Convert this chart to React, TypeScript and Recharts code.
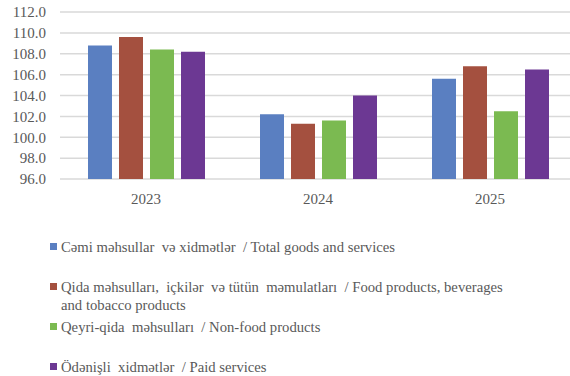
import React from 'react';
import { BarChart, Bar, XAxis, YAxis, CartesianGrid, Legend } from 'recharts';

const years = ['2023', '2024', '2025'];
const total = [108.8, 102.2, 105.6];
const food = [109.6, 101.3, 106.8];
const nonFood = [108.4, 101.6, 102.5];
const paid = [108.2, 104.0, 106.5];
const yTicks = [96, 98, 100, 102, 104, 106, 108, 110, 112];

const seriesNames = [
  'Cəmi məhsullar  və xidmətlər  / Total goods and services',
  'Qida məhsulları,  içkilər  və tütün  məmulatları  / Food products, beverages and tobacco products',
  'Qeyri-qida  məhsulları  / Non-food products',
  'Ödənişli  xidmətlər  / Paid services',
];
const colors = ['#5A7FC1', '#A4503F', '#7BBA51', '#6C3893'];

const data = years.map((y, i) => ({
  year: y,
  total: total[i],
  food: food[i],
  nonFood: nonFood[i],
  paid: paid[i],
}));

const FONT = '"Liberation Serif"';
const TEXT = '#595959';

const renderLegend = () => (
  <div style={{ fontFamily: FONT, fontSize: 14.7, color: TEXT, width: 470 }}>
    {seriesNames.map((name, i) => (
      <div key={i} style={{ position: 'relative', height: 40, paddingLeft: 11 }}>
        <span
          style={{
            position: 'absolute',
            left: 0,
            top: 5,
            width: 7,
            height: 7,
            background: colors[i],
          }}
        />
        <div style={{ lineHeight: '18px', whiteSpace: 'pre-wrap', width: 452 }}>{name}</div>
      </div>
    ))}
  </div>
);

export default function App() {
  return (
    <div style={{ position: 'absolute', left: 0, top: 0, width: 570, height: 376, overflow: 'hidden', background: '#fff', fontFamily: FONT }}>
      <BarChart
        width={580}
        height={376}
        data={data}
        margin={{ top: 12, right: 4, left: 0, bottom: 167 }}
        barCategoryGap={27}
        barGap={7}
        barSize={24}
        style={{ fontFamily: FONT }}
      >
        <CartesianGrid horizontal vertical={false} stroke="#D9D9D9" strokeWidth={1.5} />
        <XAxis
          dataKey="year"
          axisLine={false}
          tickLine={false}
          tickMargin={8}
          height={30}
          tick={{ fill: TEXT, fontSize: 15, fontFamily: FONT }}
        />
        <YAxis
          domain={[96, 112]}
          ticks={yTicks}
          interval={0}
          allowDataOverflow
          axisLine={false}
          tickLine={false}
          tickMargin={8}
          width={60}
          tickFormatter={(v: number) => v.toFixed(1)}
          tick={{ fill: TEXT, fontSize: 15, fontFamily: FONT }}
        />
        <Legend
          layout="vertical"
          verticalAlign="middle"
          align="center"
          content={renderLegend}
          wrapperStyle={{ position: 'absolute', left: 50, top: 238, width: 480 }}
        />
        <Bar dataKey="total" name={seriesNames[0]} fill={colors[0]} isAnimationActive={false} />
        <Bar dataKey="food" name={seriesNames[1]} fill={colors[1]} isAnimationActive={false} />
        <Bar dataKey="nonFood" name={seriesNames[2]} fill={colors[2]} isAnimationActive={false} />
        <Bar dataKey="paid" name={seriesNames[3]} fill={colors[3]} isAnimationActive={false} />
      </BarChart>
    </div>
  );
}
